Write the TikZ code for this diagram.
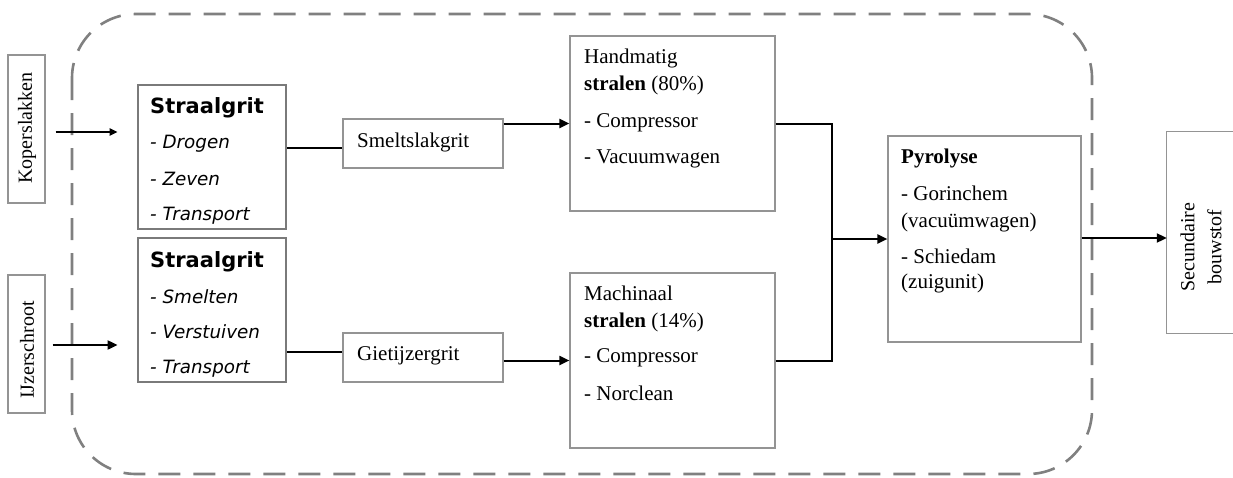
\documentclass[tikz,border=0pt]{standalone}
\usepackage{fontspec}
\setmainfont{Liberation Serif}
\newfontfamily\dvs{DejaVu Sans}
\usetikzlibrary{arrows.meta,calc}
\tikzset{
  lbox/.style={draw=black!42, line width=1.2pt, inner sep=0pt},
  gbox/.style={draw=black!52, line width=2pt, inner sep=0pt},
  txt/.style={inner sep=0pt, anchor=base west, font=\fontsize{21}{25}\selectfont},
  rtxt/.style={inner sep=0pt, rotate=90, align=center, font=\fontsize{20}{27}\selectfont},
  stitle/.style={inner sep=0pt, anchor=base west, font=\dvs\bfseries\fontsize{21}{25}\selectfont},
  sitem/.style={inner sep=0pt, anchor=base west, font=\dvs\itshape\fontsize{18.3}{22}\selectfont},
  conn/.style={line width=2pt, black},
  arr/.style={conn, -{Triangle[length=10pt,width=9pt]}},
  sarr/.style={conn, -{Triangle[length=8pt,width=7pt]}},
  border/.style={draw=black!50, line width=2.6pt, dash pattern=on 22pt off 13pt, rounded corners=64pt}
}
\begin{document}
\begin{tikzpicture}[x=1pt,y=-1pt]
\useasboundingbox (0,0) rectangle (1233,477);
% dashed system border
\draw[border] (72,14) rectangle (1092,474);

% input boxes
\node[lbox, minimum width=37pt, minimum height=148pt] (kop) at (26.5,129) {};
\node[rtxt] (kopt) at (27,128) {Koperslakken};
\node[lbox, minimum width=37pt, minimum height=138pt] (ijz) at (26.5,344) {};
\node[rtxt] (ijzt) at (27,350) {IJzerschroot};

% Straalgrit boxes
\node[gbox, minimum width=148pt, minimum height=144pt] (s1) at (212,157) {};
\node[stitle] (s1a) at (150,113) {Straalgrit};
\node[sitem] (s1b) at (150,148) {- Drogen};
\node[sitem] (s1c) at (150,185) {- Zeven};
\node[sitem] (s1d) at (150,220) {- Transport};

\node[gbox, minimum width=148pt, minimum height=144pt] (s2) at (212,310) {};
\node[stitle] (s2a) at (150,267) {Straalgrit};
\node[sitem] (s2b) at (150,303) {- Smelten};
\node[sitem] (s2c) at (150,338) {- Verstuiven};
\node[sitem] (s2d) at (150,373) {- Transport};

% grit boxes
\node[lbox, minimum width=160pt, minimum height=49pt] (smelt) at (423,143.5) {};
\node[txt] (smeltt) at (357,147) {Smeltslakgrit};
\node[lbox, minimum width=160pt, minimum height=49pt] (giet) at (423,357.5) {};
\node[txt] (giett) at (357,360) {Gietijzergrit};

% stralen boxes
\node[lbox, minimum width=205pt, minimum height=175pt] (hand) at (672.5,123.5) {};
\node[txt] (ha) at (584,63) {Handmatig};
\node[txt] (hb) at (584,90) {\textbf{stralen} (80\%)};
\node[txt] (hc) at (584,127) {- Compressor};
\node[txt] (hd) at (584,163) {- Vacuumwagen};

\node[lbox, minimum width=205pt, minimum height=175pt] (mach) at (672.5,360.5) {};
\node[txt] (ma) at (584,300) {Machinaal};
\node[txt] (mb) at (584,327) {\textbf{stralen} (14\%)};
\node[txt] (mc) at (584,362) {- Compressor};
\node[txt] (md) at (584,400) {- Norclean};

% pyrolyse
\node[lbox, minimum width=193pt, minimum height=206pt] (pyro) at (984.5,239) {};
\node[txt] (pa) at (901,163) {\textbf{Pyrolyse}};
\node[txt] (pb) at (901,200) {- Gorinchem};
\node[txt] (pc) at (901,227) {(vacuümwagen)};
\node[txt] (pd) at (901,263) {- Schiedam};
\node[txt] (pe) at (901,288) {(zuigunit)};

% output box (cut off at right edge)
\node[inner sep=0pt, minimum width=66pt, minimum height=201pt] (sec) at (1200,232.5) {};
\draw[draw=black!42, line width=1.2pt] (sec.north east) -- (sec.north west) -- (sec.south west) -- (sec.south east);
\node[rtxt] (sect) at (1201,247) {Secundaire\\bouwstof};

% connectors
\draw[sarr] ([xshift=10pt,yshift=-3pt]kop.east) -- ++(62,0);
\draw[arr] ([xshift=7pt,yshift=-1pt]ijz.east) -- ++(65,0);
\draw[conn] (s1.east |- 0,148) -- ([yshift=-4.5pt]smelt.west);
\draw[conn] (s2.east |- 0,352) -- ([yshift=5.5pt]giet.west);
\draw[arr] (smelt.east |- hand.west) -- (hand.west);
\draw[arr] (giet.east |- mach.west) -- (mach.west);
\coordinate (m) at (832,239);
\draw[conn] (hand.east) -| (m);
\draw[conn] (mach.east) -| (m);
\draw[arr] (m) -- (pyro.west);
\draw[arr] ([yshift=1pt]pyro.east) -- ([yshift=1pt]pyro.east -| sec.west);
\end{tikzpicture}
\end{document}
